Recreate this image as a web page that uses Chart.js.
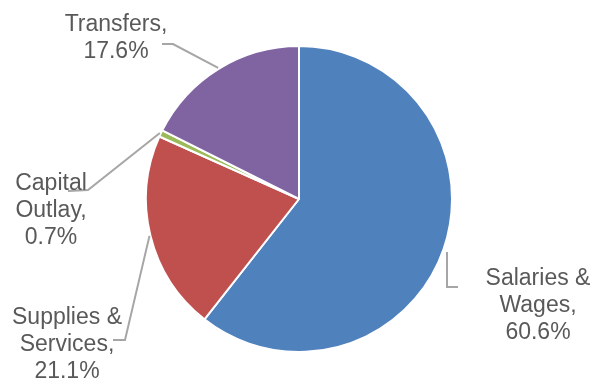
<!DOCTYPE html>
<html>
<head>
<meta charset="utf-8">
<script src="https://cdn.jsdelivr.net/npm/chart.js@4"></script>
<style>
  html, body { margin: 0; padding: 0; background: #fff; }
  canvas { display: block; }
</style>
</head>
<body>
<canvas id="graficaGasto" width="595" height="379"></canvas>
<script>
// Categorías (partidas en varias líneas) y porcentajes
const categorias = [
    ['Salaries &', 'Wages'],
    ['Supplies &', 'Services'],
    ['Capital', 'Outlay'],
    ['Transfers']
];
const porcentajes = [60.6, 21.1, 0.7, 17.6];
const colores = ['#4F81BD', '#C0504D', '#9BBB59', '#8064A2'];

// Posición de cada etiqueta (centro del texto, primera línea base) y codo de la línea guía
const posEtiquetas = [
    { x: 538, y: 285, codo: [[447, 287], [458, 287]], inicio: [447, 252] },
    { x: 67, y: 324, codo: [[125, 340], [113, 340]] },
    { x: 51, y: 190, codo: [[88, 190], [68, 191]] },
    { x: 116, y: 31, codo: [[173, 44], [162, 44]] }
];

// Etiquetas con línea guía
const etiquetasPlugin = {
    id: 'etiquetas',
    afterDatasetsDraw(chart) {
        const ctx = chart.ctx;
        const arcos = chart.getDatasetMeta(0).data;
        ctx.save();
        arcos.forEach((arco, i) => {
            const p = arco.getProps(['x', 'y', 'startAngle', 'endAngle', 'outerRadius'], true);
            const medio = (p.startAngle + p.endAngle) / 2;
            const pos = posEtiquetas[i];
            let x0 = p.x + Math.cos(medio) * (p.outerRadius + 1);
            let y0 = p.y + Math.sin(medio) * (p.outerRadius + 1);
            if (pos.inicio) { x0 = pos.inicio[0]; y0 = pos.inicio[1]; }
            ctx.strokeStyle = '#A6A6A6';
            ctx.lineWidth = 2;
            ctx.beginPath();
            ctx.moveTo(x0, y0);
            pos.codo.forEach(pt => ctx.lineTo(pt[0], pt[1]));
            ctx.stroke();

            const lineas = categorias[i].slice();
            lineas[lineas.length - 1] += ',';
            lineas.push(porcentajes[i].toFixed(1) + '%');
            ctx.fillStyle = '#595959';
            ctx.font = '23px "Liberation Sans", Arial, sans-serif';
            ctx.textAlign = 'center';
            ctx.textBaseline = 'alphabetic';
            lineas.forEach((t, j) => ctx.fillText(t, pos.x, pos.y + j * 27));
        });
        ctx.restore();
    }
};

const ctxGasto = document.getElementById('graficaGasto').getContext('2d');
const graficaGasto = new Chart(ctxGasto, {
    type: 'pie',
    data: {
        labels: categorias.map(c => c.join(' ')),
        datasets: [{
            data: porcentajes,
            backgroundColor: colores,
            borderColor: '#FFFFFF',
            borderWidth: 2
        }]
    },
    options: {
        responsive: false,
        animation: false,
        layout: { padding: { top: 45, bottom: 26, left: 145, right: 142 } },
        plugins: {
            legend: { display: false },
            tooltip: { enabled: false }
        }
    },
    plugins: [etiquetasPlugin]
});
</script>
</body>
</html>
